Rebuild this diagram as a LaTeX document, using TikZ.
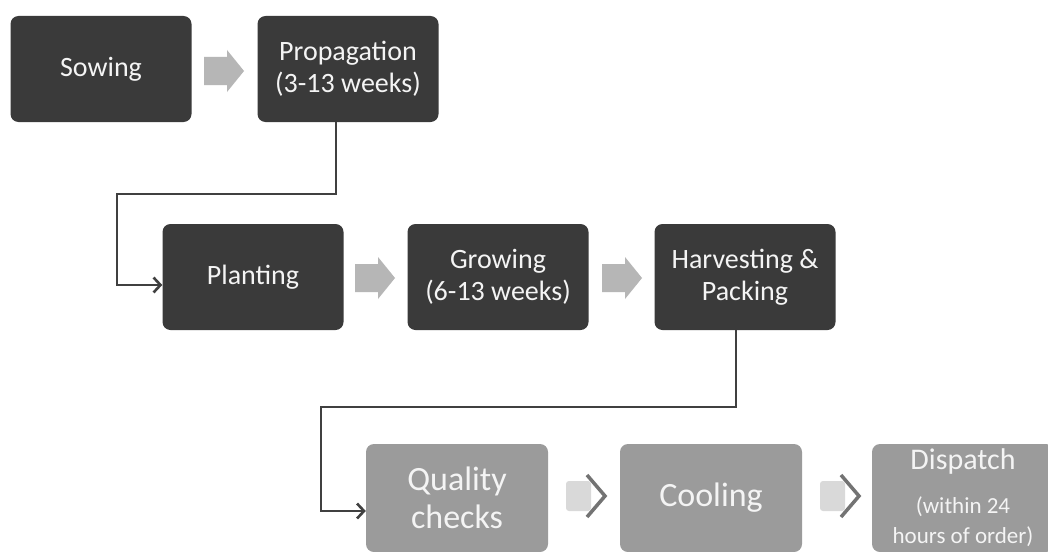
\documentclass[tikz,border=0pt]{standalone}
\usepackage{fontspec}
\setmainfont{Carlito}
\usetikzlibrary{arrows.meta,calc}
\definecolor{darkbox}{HTML}{3A3A3A}
\definecolor{lightbox}{HTML}{9B9B9B}
\definecolor{boxtext}{HTML}{F4F4F4}
\definecolor{connline}{HTML}{404040}
\definecolor{blockgray}{HTML}{B6B6B6}
\definecolor{padgray}{HTML}{D9D9D9}
\definecolor{chevgray}{HTML}{737373}
\tikzset{
  darkstage/.style={fill=darkbox, rounded corners=8pt, minimum width=181pt,
    minimum height=106pt, text=boxtext, align=center, inner sep=0pt,
    font=\fontsize{28}{32}\selectfont},
  lightstage/.style={fill=lightbox, rounded corners=8pt, minimum width=182pt,
    minimum height=108pt, text=boxtext, align=center, inner sep=0pt,
    font=\fontsize{34}{38}\selectfont},
  conn/.style={draw=connline, line width=2.6pt,
    -{Straight Barb[length=7pt,width=15pt,line width=2.6pt]}},
  blockarrow/.pic={
    \fill[blockgray] (-20,-14) -- (3,-14) -- (3,-21) -- (20,0) -- (3,21)
      -- (3,14) -- (-20,14) -- cycle;
  },
  chevarrow/.pic={
    \fill[padgray, rounded corners=3pt] (-20,-15) rectangle (5,15);
    \draw[chevgray, line width=3.5pt, line join=miter] (1,-21) -- (19,0) -- (1,21);
  }
}
\begin{document}
\begin{tikzpicture}[x=1pt, y=-1pt]
  \useasboundingbox[fill=white] (0,0) rectangle (1048,551);

  % first row
  \node[darkstage] (sow)  at (101,69) {Sowing};
  \node[darkstage] (prop) at (348,69) {Propagation\\(3-13 weeks)};

  % second row
  \node[darkstage] (plant) at (253,277) {Planting};
  \node[darkstage] (grow)  at (498,277) {Growing\\(6-13 weeks)};
  \node[darkstage] (harv)  at (745,277) {Harvesting \&\\Packing};

  % third row
  \node[lightstage] (qual) at (457,498) {Quality\\checks};
  \node[lightstage] (cool) at (711,498) {Cooling};
  \node[lightstage, font=\fontsize{30}{30}\selectfont] (disp) at (963,498)
    {Dispatch\\[14pt]{\fontsize{23}{25}\selectfont (within 24}\\
     {\fontsize{23}{25}\selectfont hours of order)}};

  % step arrows between stages
  \pic at (224,71)  {blockarrow};
  \pic at (375,278) {blockarrow};
  \pic at (622,278) {blockarrow};
  \pic at (586,496) {chevarrow};
  \pic at (840,496) {chevarrow};

  % row-to-row connectors
  \coordinate (turnA) at (117,194);
  \coordinate (turnB) at (321,407);
  \draw[conn] ([xshift=-12pt]prop.south) |- (turnA) |- ([yshift=-8pt]plant.west);
  \draw[conn] ([xshift=-9pt]harv.south) |- (turnB) |- ([yshift=-13pt]qual.west);
\end{tikzpicture}
\end{document}
